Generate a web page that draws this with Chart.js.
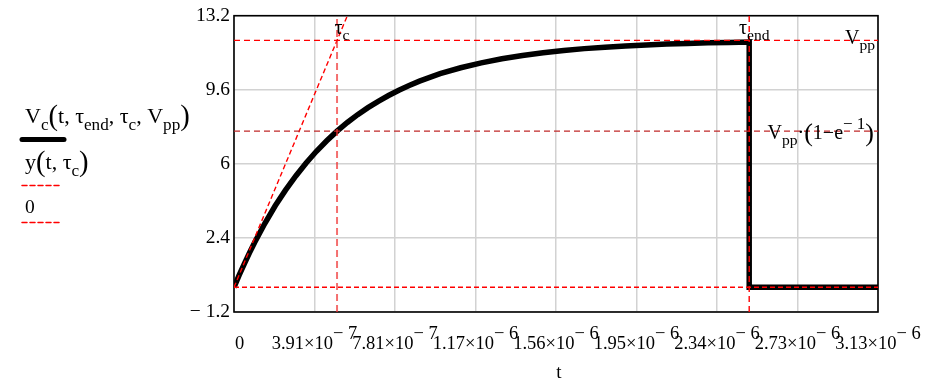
<!DOCTYPE html>
<html>
<head>
<meta charset="utf-8">
<script src="https://cdn.jsdelivr.net/npm/chart.js@4.4.1/dist/chart.umd.min.js"></script>
<style>
  html, body { margin: 0; padding: 0; background: #fff; }
  canvas { display: block; }
</style>
</head>
<body>
<canvas id="plot" width="926" height="382"></canvas>
<script>
"use strict";

// capacitor charge / discharge, values in seconds and volts
const tauC = 5e-7;
const tauEnd = 2.5e-6;
const vpp = 12;
const vppKnee = 7.59;           // Vpp * (1 - e^-1)

const vcTime = [0, 2.5e-8, 5e-8, 7.5e-8, 1e-7, 1.5e-7, 2e-7, 2.5e-7, 3e-7, 3.5e-7, 4e-7,
    4.5e-7, 5e-7, 5.5e-7, 6e-7, 6.5e-7, 7e-7, 7.5e-7, 8e-7, 8.5e-7, 9e-7, 9.5e-7, 1e-6,
    1.1e-6, 1.2e-6, 1.3e-6, 1.4e-6, 1.5e-6, 1.6e-6, 1.7e-6, 1.8e-6, 1.9e-6, 2e-6,
    2.1e-6, 2.2e-6, 2.3e-6, 2.4e-6, 2.5e-6, 2.5e-6, 3.125e-6];
const vcVolts = [0, 0.59, 1.14, 1.67, 2.18, 3.11, 3.96, 4.72, 5.41, 6.04, 6.61,
    7.12, 7.59, 8.01, 8.39, 8.73, 9.04, 9.32, 9.58, 9.81, 10.02, 10.20, 10.38,
    10.67, 10.91, 11.11, 11.27, 11.40, 11.51, 11.60, 11.67, 11.73, 11.78,
    11.82, 11.85, 11.88, 11.90, 11.92, 0, 0];

// initial slope line y(t, tau_c)
const slopeTime = [0, 5.5e-7];
const slopeVolts = [0, 13.2];

const zeroTime = [0, 3.125e-6];
const zeroVolts = [0, 0];

const xTicks = [0, 3.90625e-7, 7.8125e-7, 1.171875e-6, 1.5625e-6, 1.953125e-6,
    2.34375e-6, 2.734375e-6, 3.125e-6];
const xTickMant = ["0", "3.91×10", "7.81×10", "1.17×10", "1.56×10", "1.95×10",
    "2.34×10", "2.73×10", "3.13×10"];
const xTickExp = ["", "− 7", "− 7", "− 6", "− 6", "− 6", "− 6", "− 6", "− 6"];
const yTicks = [-1.2, 2.4, 6, 9.6, 13.2];
const yTickLabels = ["− 1.2", "2.4", "6", "9.6", "13.2"];

const SERIF = "'Liberation Serif', 'Times New Roman', serif";
const RED = "#ff0000";

const pts = (xs, ys) => xs.map((x, i) => ({ x: x, y: ys[i] }));

// little math typesetter: runs of [text, scale, dy]
const tx = t => [t, 1, 0];
const sub = t => [t, 0.78, 0.3];
const sup = t => [t, 0.85, -0.5];
const big = t => [t, 1.3, 0.1];

function mathWidth(ctx, runs, size) {
    let w = 0;
    runs.forEach(r => {
        ctx.font = (size * r[1]) + "px " + SERIF;
        w += ctx.measureText(r[0]).width;
    });
    return w;
}

function drawMath(ctx, runs, x, y, size, align) {
    let cx = x;
    const w = mathWidth(ctx, runs, size);
    if (align === "right") cx = x - w;
    if (align === "center") cx = x - w / 2;
    ctx.textAlign = "left";
    ctx.textBaseline = "alphabetic";
    ctx.fillStyle = "#000";
    runs.forEach(r => {
        ctx.font = (size * r[1]) + "px " + SERIF;
        ctx.fillText(r[0], cx, y + r[2] * size);
        cx += ctx.measureText(r[0]).width;
    });
}

function dashLine(ctx, x1, y1, x2, y2, color, width, dash) {
    ctx.save();
    ctx.strokeStyle = color;
    ctx.lineWidth = width;
    ctx.setLineDash(dash);
    ctx.beginPath();
    ctx.moveTo(x1, y1);
    ctx.lineTo(x2, y2);
    ctx.stroke();
    ctx.restore();
}

const mathcadPlot = {
    id: "mathcadPlot",
    beforeDatasetsDraw(chart) {
        const { ctx, chartArea: a } = chart;
        ctx.save();
        ctx.strokeStyle = "#000";
        ctx.lineWidth = 1.6;
        ctx.strokeRect(a.left, a.top, a.right - a.left, a.bottom - a.top);
        ctx.restore();
    },
    afterDraw(chart) {
        const { ctx, chartArea: a } = chart;
        const xs = chart.scales.x, ys = chart.scales.y;
        ctx.save();

        // x tick labels with exponents
        xTicks.forEach((v, i) => {
            const px = xs.getPixelForValue(v);
            const runs = [tx(xTickMant[i])];
            if (xTickExp[i]) runs.push([xTickExp[i], 1, -0.52]);
            if (i === 0) drawMath(ctx, runs, px + 1, 349, 18.5, "left");
            else drawMath(ctx, runs, px, 349, 18.5, "center");
        });
        drawMath(ctx, [tx("t")], (a.left + a.right) / 2 + 3, 378, 19, "center");

        // marker labels
        drawMath(ctx, [tx("τ"), sub("c")], xs.getPixelForValue(tauC) + 5, 34, 20, "center");
        drawMath(ctx, [tx("τ"), sub("end")], xs.getPixelForValue(tauEnd) + 5, 34, 20, "center");
        drawMath(ctx, [tx("V"), sub("pp")], a.right - 3, ys.getPixelForValue(vpp) + 3.5, 20, "right");
        drawMath(ctx, [tx("V"), sub("pp"), tx("·"), big("("), tx("1−e"), sup("− 1"), big(")")],
            a.right - 4, ys.getPixelForValue(vppKnee) + 8, 20, "right");

        // legend
        drawMath(ctx, [tx("V"), sub("c"), big("("), tx("t, τ"), sub("end"), tx(", τ"), sub("c"),
            tx(", V"), sub("pp"), big(")")], 25, 123, 22, "left");
        ctx.strokeStyle = "#000";
        ctx.lineWidth = 5;
        ctx.lineCap = "round";
        ctx.beginPath();
        ctx.moveTo(22, 139.5);
        ctx.lineTo(64, 139.5);
        ctx.stroke();

        drawMath(ctx, [tx("y"), big("("), tx("t, τ"), sub("c"), big(")")], 25, 169, 22, "left");
        dashLine(ctx, 22, 185.5, 61, 185.5, RED, 1.5, [5, 3]);

        drawMath(ctx, [tx("0")], 25, 212.5, 19.5, "left");
        dashLine(ctx, 22, 222.5, 61, 222.5, RED, 1.5, [5, 3]);

        ctx.restore();
    }
};

new Chart(document.getElementById("plot"), {
    type: "line",
    data: {
        datasets: [
            {
                label: "tau_end",
                data: pts([tauEnd, tauEnd], [-1.2, 13.2]),
                borderColor: RED, borderWidth: 1.4, borderDash: [6, 4]
            },
            {
                label: "tau_c",
                data: pts([tauC, tauC], [-1.2, 13.2]),
                borderColor: "rgba(240, 50, 50, 0.7)", borderWidth: 2, borderDash: [7, 4]
            },
            {
                label: "Vpp",
                data: pts([0, 3.125e-6], [vpp, vpp]),
                borderColor: RED, borderWidth: 1.3, borderDash: [6, 4]
            },
            {
                label: "Vpp(1-e^-1)",
                data: pts([0, 3.125e-6], [vppKnee, vppKnee]),
                borderColor: "#c02828", borderWidth: 1.3, borderDash: [6, 4]
            },
            {
                label: "0",
                data: pts(zeroTime, zeroVolts),
                borderColor: RED, borderWidth: 1.4, borderDash: [5, 3]
            },
            {
                label: "y(t, tau_c)",
                data: pts(slopeTime, slopeVolts),
                borderColor: RED, borderWidth: 1.4, borderDash: [5, 3]
            },
            {
                label: "Vc(t, tau_end, tau_c, Vpp)",
                data: pts(vcTime, vcVolts),
                borderColor: "#000", borderWidth: 5.5, borderJoinStyle: "miter"
            }
        ]
    },
    options: {
        responsive: false,
        animation: false,
        events: [],
        elements: { point: { radius: 0 }, line: { tension: 0, fill: false } },
        layout: { padding: { left: 0, top: 14, right: 48, bottom: 70 } },
        plugins: { legend: { display: false }, tooltip: { enabled: false } },
        scales: {
            x: {
                type: "linear",
                min: 0,
                max: 3.125e-6,
                afterBuildTicks: s => { s.ticks = xTicks.map(v => ({ value: v })); },
                ticks: { display: false },
                grid: { color: "#d2d2d2", lineWidth: 1.5, drawTicks: false },
                border: { display: false }
            },
            y: {
                type: "linear",
                min: -1.2,
                max: 13.2,
                afterBuildTicks: s => { s.ticks = yTicks.map(v => ({ value: v })); },
                afterFit: s => { s.width = 234; },
                ticks: {
                    color: "#000",
                    padding: 4,
                    font: { family: SERIF, size: 19.5 },
                    callback: (v, i) => yTickLabels[i]
                },
                grid: { color: "#d2d2d2", lineWidth: 1.5, drawTicks: false },
                border: { display: false }
            }
        }
    },
    plugins: [mathcadPlot]
});
</script>
</body>
</html>
